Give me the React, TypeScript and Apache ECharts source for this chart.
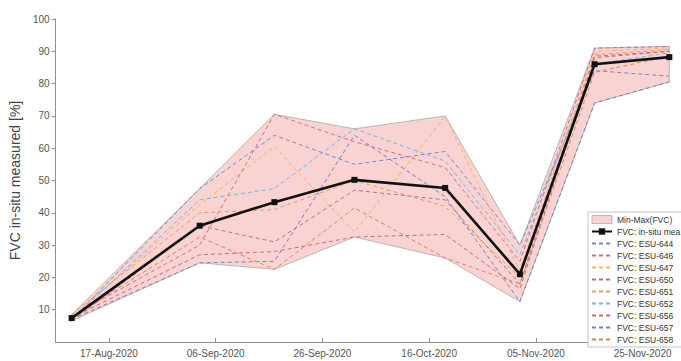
import React, { useEffect, useRef } from "react";
import * as echarts from "echarts";

// Sampling dates of the field campaign
const dates = [
  "2020-08-10",
  "2020-09-03",
  "2020-09-17",
  "2020-10-02",
  "2020-10-19",
  "2020-11-02",
  "2020-11-16",
  "2020-11-30",
];

// Mean in-situ FVC and its envelope over all ESUs [%]
const insituMean = [7.4, 36, 43.3, 50.2, 47.7, 21, 86, 88.2];
const fvcMin = [6.5, 24.5, 22.5, 32.5, 26, 12.5, 74, 80.5];
const fvcMax = [8.5, 47.5, 70.5, 66, 70, 30, 91, 91.5];

// Per-ESU FVC [%]
const esu644 = [7, 47.5, 64, 55, 59, 30, 84, 82.3];
const esu646 = [8, 30, 70.5, 62, 54, 25, 91, 91.5];
const esu647 = [7.5, 42.5, 60.5, 34, 70, 22, 90, 91];
const esu650 = [6.5, 36, 31, 47, 44, 18, 88.5, 90];
const esu651 = [8.5, 40, 41, 50, 42, 20, 89, 90.5];
const esu652 = [7, 44, 47.5, 66, 56, 27, 86, 89.5];
const esu656 = [7.5, 27, 28, 32.5, 33.3, 16.5, 88, 90];
const esu657 = [7, 24.5, 25, 64, 45, 12.5, 74, 80.5];
const esu658 = [7.6, 32.5, 22.5, 41.5, 26, 18, 83.5, 88.5];

const esuNames = ["644", "646", "647", "650", "651", "652", "656", "657", "658"];
const esuValues = [esu644, esu646, esu647, esu650, esu651, esu652, esu656, esu657, esu658];
const esuColors = [
  "#7b86c7",
  "#c7718a",
  "#f0b36a",
  "#b5708e",
  "#e39d5f",
  "#73b6e0",
  "#c76a7e",
  "#6d83c9",
  "#d28a5a",
];

// Axis ticks and range
const tickDates = ["2020-08-17", "2020-09-06", "2020-09-26", "2020-10-16", "2020-11-05", "2020-11-25"];
const xStart = "2020-08-07";
const xEnd = "2020-12-02";

const MONTHS = ["Jan", "Feb", "Mar", "Apr", "May", "Jun", "Jul", "Aug", "Sep", "Oct", "Nov", "Dec"];
const FONT = "Liberation Sans, Arial, Helvetica, sans-serif";

const toTime = (s: string) => new Date(s + "T00:00:00").getTime();
const fmtDate = (v: number) => {
  const d = new Date(v);
  const dd = String(d.getDate()).padStart(2, "0");
  return `${dd}-${MONTHS[d.getMonth()]}-${d.getFullYear()}`;
};

export default function App() {
  const ref = useRef<HTMLDivElement>(null);

  useEffect(() => {
    if (!ref.current) return;
    const chart = echarts.init(ref.current, undefined, { renderer: "svg" });

    const times = dates.map(toTime);

    // Filled envelope between the per-date minimum and maximum
    const bandSeries = {
      name: "Min-Max(FVC)",
      type: "custom",
      z: 1,
      data: [[times[0], fvcMin[0]]],
      renderItem: (_params: any, api: any) => {
        const upper = times.map((t, i) => api.coord([t, fvcMax[i]]));
        const lower = times.map((t, i) => api.coord([t, fvcMin[i]])).reverse();
        return {
          type: "polygon",
          shape: { points: upper.concat(lower) },
          style: { fill: "#f9d2d2", stroke: "#a8a8a8", lineWidth: 0.8 },
        };
      },
    };

    const esuSeries = esuNames.map((n, k) => ({
      name: `FVC: ESU-${n}`,
      type: "line",
      z: 2,
      symbol: "none",
      data: times.map((t, i) => [t, esuValues[k][i]]),
      lineStyle: { color: esuColors[k], width: 1, type: [4, 3] },
      itemStyle: { color: esuColors[k] },
    }));

    const meanSeries = {
      name: "FVC: in-situ measured",
      type: "line",
      z: 5,
      symbol: "rect",
      symbolSize: 6,
      data: times.map((t, i) => [t, insituMean[i]]),
      lineStyle: { color: "#111", width: 2.6 },
      itemStyle: { color: "#111" },
    };

    const tickTimes = tickDates.map(toTime);

    chart.setOption({
      animation: false,
      textStyle: { fontFamily: FONT },
      grid: { left: 49, right: 1, top: 19, bottom: 19 },
      xAxis: {
        type: "value",
        min: toTime(xStart),
        max: toTime(xEnd),
        axisLine: { lineStyle: { color: "#8f8f8f", width: 1 } },
        axisTick: { inside: true, length: 4, customValues: tickTimes, lineStyle: { color: "#8f8f8f" } },
        axisLabel: {
          customValues: tickTimes,
          formatter: (v: number) => fmtDate(v),
          color: "#555",
          fontSize: 10,
          margin: 6,
          fontFamily: FONT,
        },
        splitLine: { show: false },
      },
      yAxis: {
        type: "value",
        min: 0,
        max: 100,
        interval: 10,
        name: "FVC in-situ measured [%]",
        nameLocation: "middle",
        nameGap: 26,
        nameTextStyle: { color: "#444", fontSize: 14, fontFamily: FONT },
        axisLine: { show: true, lineStyle: { color: "#8f8f8f", width: 1 } },
        axisTick: { show: true, inside: false, length: 4, lineStyle: { color: "#8f8f8f" } },
        axisLabel: { showMinLabel: false, color: "#555", fontSize: 10, margin: 6, fontFamily: FONT },
        splitLine: { show: false },
      },
      legend: {
        orient: "vertical",
        left: 588,
        top: 212,
        itemWidth: 20,
        itemHeight: 8,
        itemGap: 3,
        padding: [3, 3, 3, 3],
        backgroundColor: "#fff",
        borderColor: "#b5b5b5",
        borderWidth: 0.8,
        borderRadius: 0,
        textStyle: {
          fontSize: 8.5,
          color: "#333",
          fontFamily: FONT,
          width: 66,
          overflow: "truncate",
          ellipsis: "",
        },
        data: [
          {
            name: "Min-Max(FVC)",
            icon: "rect",
            itemStyle: { color: "#f9d2d2", borderColor: "#999", borderWidth: 0.6 },
          },
          "FVC: in-situ measured",
          ...esuNames.map((n) => ({ name: `FVC: ESU-${n}`, itemStyle: { opacity: 0 } })),
        ],
      },
      series: [bandSeries, ...esuSeries, meanSeries],
    });

    return () => chart.dispose();
  }, []);

  return (
    <div
      ref={ref}
      style={{ position: "fixed", left: 0, top: 0, width: 681, height: 361, background: "#fff" }}
    />
  );
}
